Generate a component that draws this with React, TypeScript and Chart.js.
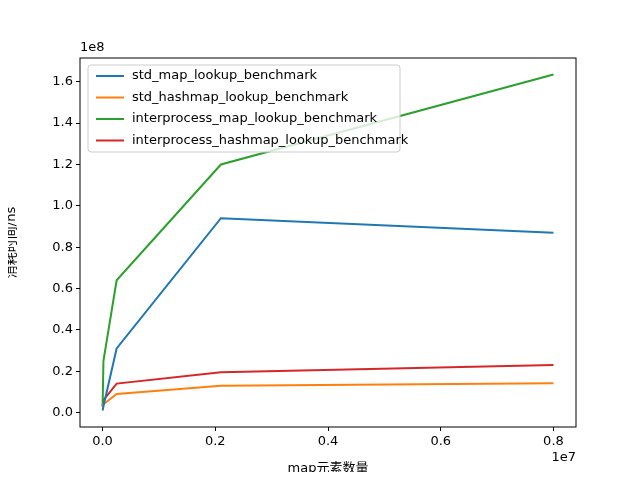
import React, { useEffect, useRef } from 'react';
import { Chart, registerables } from 'chart.js';

Chart.register(...registerables);

const mapSizes = [1000, 16000, 250000, 2100000, 8000000];
const stdMap = [0.01e8, 0.03e8, 0.31e8, 0.94e8, 0.87e8];
const stdHashmap = [0.025e8, 0.04e8, 0.09e8, 0.13e8, 0.142e8];
const ipcMap = [0.03e8, 0.25e8, 0.64e8, 1.2e8, 1.635e8];
const ipcHashmap = [0.03e8, 0.06e8, 0.14e8, 0.195e8, 0.23e8];
const seriesNames = [
    'std_map_lookup_benchmark',
    'std_hashmap_lookup_benchmark',
    'interprocess_map_lookup_benchmark',
    'interprocess_hashmap_lookup_benchmark',
];
const colors = ['#1f77b4', '#ff7f0e', '#2ca02c', '#d62728'];
const FONT = 'DejaVu Sans, "Noto Sans CJK SC", sans-serif';

const App: React.FC = () => {
    const chartRef = useRef<HTMLCanvasElement | null>(null);

    useEffect(() => {
        if (!chartRef.current) return;
        const all = [stdMap, stdHashmap, ipcMap, ipcHashmap];

        // frame, legend, offset labels
        const extras = {
            id: 'extras',
            afterDraw(chart: any) {
                const { ctx, chartArea: a } = chart;
                ctx.save();
                ctx.strokeStyle = '#000';
                ctx.lineWidth = 1;
                ctx.strokeRect(a.left, a.top, a.right - a.left, a.bottom - a.top);
                ctx.fillStyle = '#000';
                ctx.font = `13px ${FONT}`;
                ctx.textBaseline = 'bottom';
                ctx.textAlign = 'left';
                ctx.fillText('1e8', a.left, a.top - 4);
                ctx.textAlign = 'right';
                ctx.textBaseline = 'top';
                ctx.fillText('1e7', a.right, a.bottom + 24);
                // legend
                const lx = a.left + 8, ly = a.top + 7;
                ctx.fillStyle = 'rgba(255,255,255,0.8)';
                ctx.strokeStyle = '#ccc';
                ctx.beginPath();
                ctx.roundRect(lx, ly, 312, 87, 3);
                ctx.fill();
                ctx.stroke();
                ctx.textAlign = 'left';
                ctx.textBaseline = 'middle';
                seriesNames.forEach((n, i) => {
                    const y = ly + 11 + i * 21.5;
                    ctx.strokeStyle = colors[i];
                    ctx.lineWidth = 2;
                    ctx.beginPath();
                    ctx.moveTo(lx + 8, y);
                    ctx.lineTo(lx + 36, y);
                    ctx.stroke();
                    ctx.fillStyle = '#000';
                    ctx.fillText(n, lx + 44, y);
                });
                ctx.restore();
            },
        };

        const chart = new Chart(chartRef.current, {
            type: 'line',
            data: {
                datasets: all.map((vals, i) => ({
                    label: seriesNames[i],
                    data: vals.map((v, j) => ({ x: mapSizes[j], y: v })),
                    borderColor: colors[i],
                    backgroundColor: colors[i],
                    borderWidth: 2,
                    pointRadius: 0,
                    tension: 0,
                })),
            },
            options: {
                animation: false,
                responsive: false,
                layout: { padding: { top: 58, right: 64, left: 0, bottom: 0 } },
                plugins: { legend: { display: false }, tooltip: { enabled: false } },
                scales: {
                    x: {
                        type: 'linear',
                        min: -0.4e6,
                        max: 8.4e6,
                        afterBuildTicks: (s: any) => {
                            s.ticks = [0, 2e6, 4e6, 6e6, 8e6].map((v) => ({ value: v }));
                        },
                        afterFit: (s: any) => { s.height = 53; },
                        grid: { drawOnChartArea: false, tickLength: 4, color: '#000' },
                        border: { display: false },
                        ticks: {
                            color: '#000',
                            font: { family: FONT, size: 13 },
                            maxRotation: 0,
                            callback: (v: any) => (Number(v) / 1e7).toFixed(1),
                        },
                        title: { display: true, text: 'map元素数量', color: '#000', font: { family: FONT, size: 13 }, padding: { top: 4 } },
                    },
                    y: {
                        type: 'linear',
                        min: -0.07e8,
                        max: 1.715e8,
                        afterBuildTicks: (s: any) => {
                            s.ticks = [0, 0.2, 0.4, 0.6, 0.8, 1.0, 1.2, 1.4, 1.6].map((v) => ({ value: v * 1e8 }));
                        },
                        afterFit: (s: any) => { s.width = 80; },
                        grid: { drawOnChartArea: false, tickLength: 4, color: '#000' },
                        border: { display: false },
                        ticks: {
                            color: '#000',
                            font: { family: FONT, size: 13 },
                            callback: (v: any) => (Number(v) / 1e8).toFixed(1),
                        },
                        title: { display: true, text: '消耗时间/ns', color: '#000', font: { family: FONT, size: 13 } },
                    },
                },
            },
            plugins: [extras],
        });

        return () => chart.destroy();
    }, []);

    return <canvas ref={chartRef} width={640} height={480} style={{ display: 'block', margin: -8 }} />;
};

export default App;
